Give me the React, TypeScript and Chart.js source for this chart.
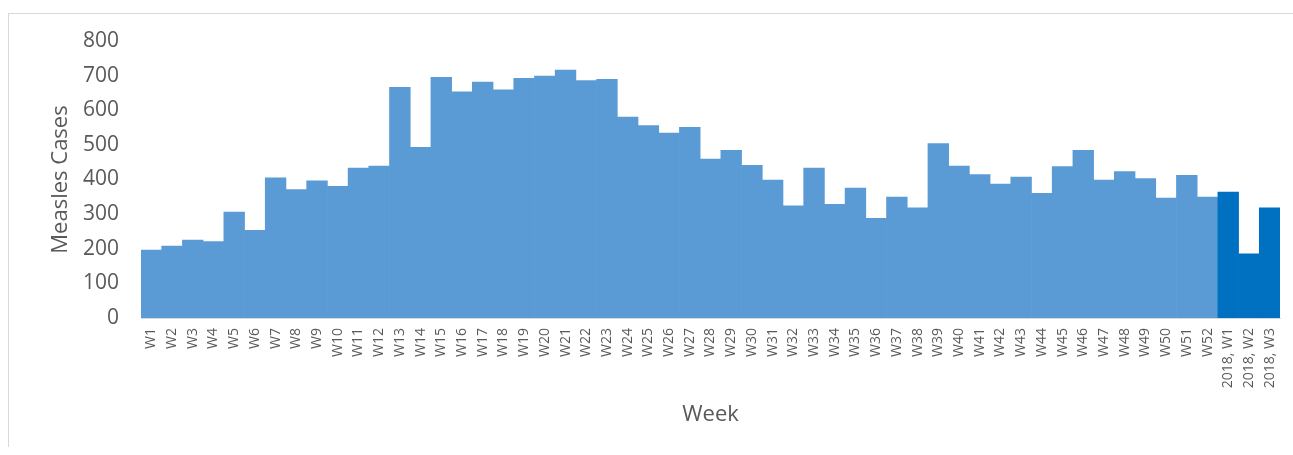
import { useEffect, useRef } from "react";
import { Chart, registerables } from "chart.js";

Chart.register(...registerables);

const weekLabels2017 = [
  "W1", "W2", "W3", "W4", "W5", "W6", "W7", "W8", "W9", "W10",
  "W11", "W12", "W13", "W14", "W15", "W16", "W17", "W18", "W19", "W20",
  "W21", "W22", "W23", "W24", "W25", "W26", "W27", "W28", "W29", "W30",
  "W31", "W32", "W33", "W34", "W35", "W36", "W37", "W38", "W39", "W40",
  "W41", "W42", "W43", "W44", "W45", "W46", "W47", "W48", "W49", "W50",
  "W51", "W52",
];
const weekLabels2018 = ["2018, W1", "2018, W2", "2018, W3"];

const cases2017 = [
  196, 208, 225, 221, 306, 253, 405, 371, 396, 380,
  433, 439, 666, 493, 695, 653, 681, 659, 692, 699,
  716, 686, 689, 580, 556, 534, 551, 459, 484, 441,
  398, 324, 433, 328, 375, 288, 349, 318, 504, 439,
  414, 387, 407, 360, 437, 484, 398, 423, 403, 346,
  412, 349,
];
const cases2018 = [364, 185, 318];

const yMin = 0;
const yMax = 800;
const yStep = 100;

const color2017 = "#5B9BD5";
const color2018 = "#0070C0";
const textColor = "#595959";
const FONT = "'Open Sans', 'DejaVu Sans', sans-serif";

export default function App() {
  const ref = useRef<HTMLCanvasElement>(null);

  useEffect(() => {
    const labels = [...weekLabels2017, ...weekLabels2018];
    const data = [...cases2017, ...cases2018];
    const colors = [
      ...cases2017.map(() => color2017),
      ...cases2018.map(() => color2018),
    ];
    const chart = new Chart(ref.current!, {
      type: "bar",
      data: {
        labels,
        datasets: [
          {
            data,
            backgroundColor: colors,
            borderWidth: 0,
            categoryPercentage: 1,
            barPercentage: 1,
          },
        ],
      },
      options: {
        animation: false,
        responsive: false,
        maintainAspectRatio: false,
        layout: { padding: { top: 27, right: 13, left: 0, bottom: 0 } },
        plugins: {
          legend: { display: false },
          tooltip: { enabled: false },
        },
        scales: {
          x: {
            grid: { display: false, drawTicks: false },
            border: { display: true, color: "#d9d9d9", width: 1 },
            ticks: {
              color: textColor,
              font: { family: FONT, size: 14 },
              minRotation: 90,
              maxRotation: 90,
              autoSkip: false,
              padding: 10,
            },
            title: {
              display: true,
              text: "Week",
              color: textColor,
              font: { family: FONT, size: 22 },
              padding: { top: 0, bottom: 19 },
            },
            afterFit: (s: any) => {
              s.height = 129;
              s.paddingLeft = 0;
              s.paddingRight = 0;
            },
          },
          y: {
            min: yMin,
            max: yMax,
            grid: { display: false, drawTicks: false },
            border: { display: false },
            ticks: {
              stepSize: yStep,
              color: textColor,
              font: { family: FONT, size: 21 },
              padding: 22,
            },
            title: {
              display: true,
              text: "Measles Cases",
              color: textColor,
              font: { family: FONT, size: 22 },
              padding: { top: 39, bottom: 0 },
            },
            afterFit: (s: any) => {
              s.width = 132;
              s.paddingTop = 0;
              s.paddingBottom = 0;
            },
          },
        },
      },
    });
    return () => chart.destroy();
  }, []);

  return (
    <div
      style={{
        position: "absolute",
        left: 8,
        top: 13,
        width: 1285,
        height: 433,
        borderTop: "1px solid #d9d9d9",
        borderLeft: "1px solid #d9d9d9",
        overflow: "hidden",
      }}
    >
      <canvas ref={ref} width={1284} height={433} style={{ display: "block" }} />
    </div>
  );
}
